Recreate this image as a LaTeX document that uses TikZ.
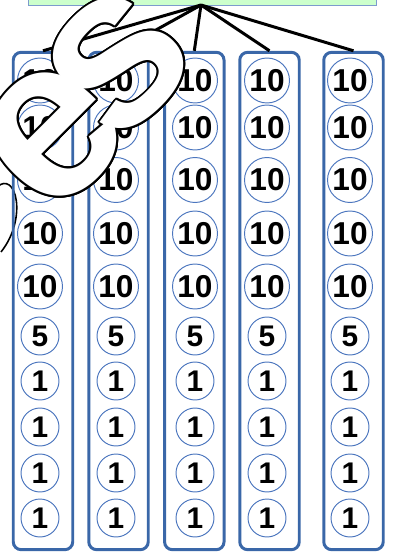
\documentclass[tikz,border=0pt]{standalone}
\usepackage{fontspec}
\setmainfont{Liberation Sans}
\usetikzlibrary{positioning}

\definecolor{boxblue}{RGB}{58,103,168}
\definecolor{ringblue}{RGB}{76,118,190}
\definecolor{paleg}{RGB}{204,255,204}
\definecolor{rimblue}{RGB}{125,155,205}

\begin{document}
\begin{tikzpicture}[x=0.02cm,y=-0.02cm,
banner/.style={draw=rimblue,fill=paleg,line width=0.5pt,minimum width=6.96cm,minimum height=0.54cm,inner sep=0pt},
column/.style={draw=boxblue,line width=1.7pt,rounded corners=4.5pt,minimum width=1.19cm,minimum height=9.95cm,inner sep=0pt},
coin/.style={circle,draw=ringblue,line width=0.55pt,inner sep=0pt,minimum size=0.76cm,font=\fontsize{17}{17}\selectfont\bfseries},
bigcoin/.style={coin,minimum size=0.9cm,font=\fontsize{18}{18}\selectfont\bfseries},
link/.style={line width=1.7pt},
word/.style={font=\fontsize{130}{130}\selectfont\bfseries,rotate=45,inner sep=0pt}]

\useasboundingbox (0,0) rectangle (393,553);

\node[banner](top) at (202,-8) {};
\coordinate (hub) at (201,5);

\draw[line width=0.9pt,fill=white] (-3,187) .. controls (16,170) and (28,218) .. (1,252);

\foreach \n/\bx in {1/43,2/118.5,3/194.3,4/269.5,5/353.5}
  \node[column](col\n) at (\bx,301) {};

\foreach \n in {1,...,5}
  \draw[link] (hub) -- (col\n.north);

\foreach \n/\cx in {1/40,2/116,3/195,4/267,5/350} {
  \foreach \y [count=\k] in {80.5,127.5,180,233.5,286.5}
    \node[bigcoin](ten\n-\k) at (\cx,\y) {10};
  \node[coin](five\n) at (\cx,336) {5};
  \foreach \y [count=\k] in {381,427,473,518}
    \node[coin](one\n-\k) at (\cx,\y) {1};
}

\foreach \a in {0,20,...,340} {
  \node[word,text=black,shift={(\a:1.1pt)}](rime\a) at (53,135) {e};
  \node[word,text=black,shift={(\a:1.1pt)}](rims\a) at (118,62) {s};
}
\node[word,text=white](lete) at (53,135) {e};
\node[word,text=white](lets) at (118,62) {s};
\end{tikzpicture}
\end{document}
